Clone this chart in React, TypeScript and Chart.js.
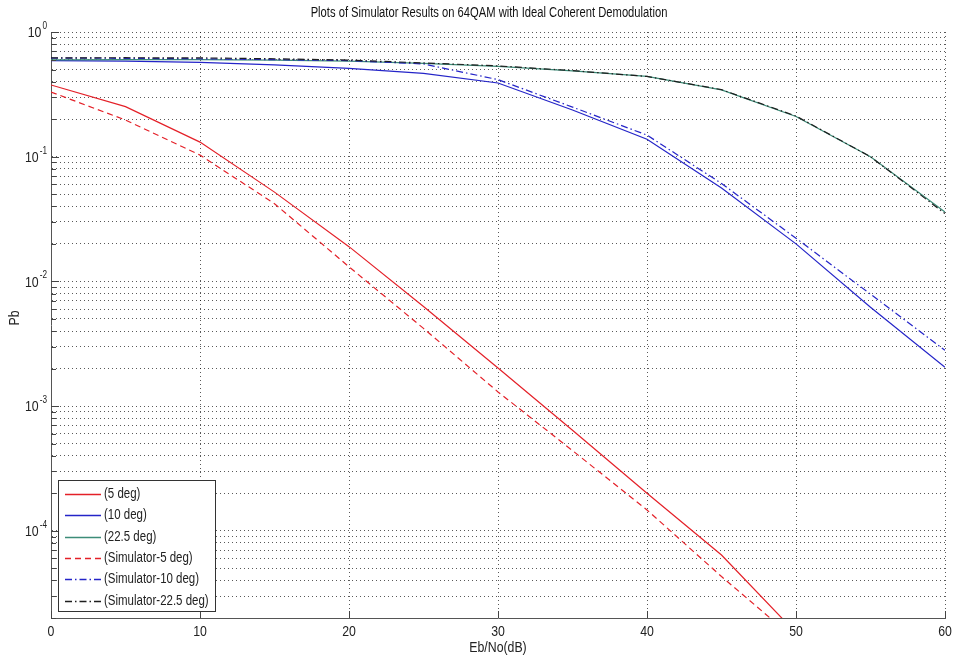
import React, { useEffect, useRef } from "react";
import { Chart, registerables } from "chart.js";

Chart.register(...registerables);

// ---- data ----
const ebno = [0, 5, 10, 15, 20, 25, 30, 35, 40, 45, 50, 55, 60];

const deg5 = [0.376, 0.252, 0.131, 0.052, 0.019, 0.0063, 0.00202, 0.00064, 0.0002, 0.000064, 0.0000152];
const deg10 = [0.589, 0.585, 0.57, 0.544, 0.51, 0.465, 0.39, 0.237, 0.138, 0.056, 0.02, 0.0062, 0.00205];
const deg22 = [0.598, 0.6, 0.6, 0.595, 0.585, 0.56, 0.53, 0.487, 0.44, 0.343, 0.21, 0.1, 0.036];
const sim5 = [0.33, 0.197, 0.103, 0.042, 0.0131, 0.0042, 0.0013, 0.00044, 0.000147, 0.000043, 0.0000133];
const sim10 = [0.618, 0.615, 0.61, 0.6, 0.59, 0.554, 0.415, 0.25, 0.149, 0.061, 0.0222, 0.0079, 0.0028];
const sim22 = [0.62, 0.622, 0.62, 0.61, 0.595, 0.565, 0.535, 0.49, 0.44, 0.345, 0.212, 0.1, 0.035];

const seriesLabels = ["(5 deg)", "(10 deg)", "(22.5 deg)", "(Simulator-5 deg)", "(Simulator-10 deg)", "(Simulator-22.5 deg)"];
const xTicks = [0, 10, 20, 30, 40, 50, 60];
const yDecades = [1e-5, 1e-4, 1e-3, 1e-2, 1e-1, 1];
const yMin = 2e-5;
const yMax = 1;

const titleText = "Plots of Simulator Results on 64QAM with Ideal Coherent Demodulation";
const xTitle = "Eb/No(dB)";
const yTitle = "Pb";

const FONT = "'Liberation Sans', Arial, sans-serif";
const SQ = 0.82; // horizontal condensing of text

const colors = ["rgb(228,32,40)", "rgb(36,36,200)", "rgb(60,140,120)", "rgb(228,32,40)", "rgb(36,36,200)", "rgb(30,30,30)"];
const dashes: number[][] = [[], [], [], [6, 4], [7, 3, 1.5, 3], [7, 3, 1.5, 3]];
const values = [deg5, deg10, deg22, sim5, sim10, sim22];

function allYTicks(): number[] {
  const out: number[] = [];
  for (const d of yDecades) {
    for (let m = 1; m <= 9; m++) {
      const v = +(m * d).toPrecision(3);
      if (v >= yMin - 1e-12 && v <= yMax + 1e-12) out.push(v);
    }
  }
  return out;
}

function txt(ctx: CanvasRenderingContext2D, s: string, x: number, y: number, size: number, align: CanvasTextAlign, base: CanvasTextBaseline = "middle", sq = SQ) {
  ctx.save();
  ctx.font = `${size}px ${FONT}`;
  ctx.translate(x, y);
  ctx.scale(sq, 1);
  ctx.textAlign = align;
  ctx.textBaseline = base;
  ctx.fillText(s, 0, 0);
  ctx.restore();
}

function txtW(ctx: CanvasRenderingContext2D, s: string, size: number, sq = SQ) {
  ctx.save();
  ctx.font = `${size}px ${FONT}`;
  const w = ctx.measureText(s).width * sq;
  ctx.restore();
  return w;
}

const decorPlugin = {
  id: "decor",
  afterDraw(chart: any) {
    const { ctx, chartArea: a, scales } = chart;
    const x = scales.x;
    const y = scales.y;
    ctx.save();
    // inward tick marks
    ctx.strokeStyle = "#444";
    ctx.lineWidth = 1;
    ctx.setLineDash([]);
    for (const v of allYTicks()) {
      const py = Math.round(y.getPixelForValue(v)) + 0.5;
      const isDec = yDecades.some((d) => Math.abs(d - v) / d < 1e-6);
      const len = isDec ? 8 : 5;
      ctx.beginPath();
      ctx.moveTo(a.left, py);
      ctx.lineTo(a.left + len, py);
      ctx.stroke();
    }
    for (const v of xTicks) {
      const px = Math.round(x.getPixelForValue(v)) + 0.5;
      ctx.beginPath();
      ctx.moveTo(px, a.bottom);
      ctx.lineTo(px, a.bottom - 7);
      ctx.stroke();
    }
    ctx.fillStyle = "#222";
    // x tick labels
    for (const v of xTicks) {
      txt(ctx, String(v), x.getPixelForValue(v), a.bottom + 14, 15, "center");
    }
    // y tick labels with superscript exponent
    for (const d of yDecades) {
      if (d < yMin || d > yMax) continue;
      const py = y.getPixelForValue(d);
      const exp = String(Math.round(Math.log10(d)));
      const ew = txtW(ctx, exp, 10);
      const expRight = a.left - 4;
      txt(ctx, exp, expRight - ew, py - 3, 10, "left", "alphabetic");
      txt(ctx, "10", expRight - ew - 1, py + 1, 15, "right");
    }
    // title
    ctx.fillStyle = "#111";
    txt(ctx, titleText, 489, 13, 14, "center", "middle", 0.8);
    // axis titles
    ctx.fillStyle = "#222";
    txt(ctx, xTitle, (a.left + a.right) / 2, 648, 15, "center");
    ctx.save();
    ctx.translate(15, 318);
    ctx.rotate(-Math.PI / 2);
    txt(ctx, yTitle, 0, 0, 15, "center");
    ctx.restore();

    // legend
    const lx = 58.5, ly = 480.5, lw = 157, lh = 131;
    ctx.fillStyle = "#fff";
    ctx.fillRect(lx, ly, lw, lh);
    ctx.strokeStyle = "#333";
    ctx.lineWidth = 1;
    ctx.setLineDash([]);
    ctx.strokeRect(lx, ly, lw, lh);
    const ds = chart.data.datasets;
    ds.forEach((d: any, i: number) => {
      const cy = Math.round(494 + i * 21.3) + 0.5;
      ctx.strokeStyle = colors[i];
      ctx.lineWidth = 1.6;
      ctx.setLineDash(dashes[i]);
      ctx.beginPath();
      ctx.moveTo(65, cy);
      ctx.lineTo(101, cy);
      ctx.stroke();
      ctx.setLineDash([]);
      ctx.fillStyle = "#222";
      txt(ctx, d.label, 104, cy, 14, "left");
    });
    ctx.restore();
  },
};

export default function App() {
  const ref = useRef<HTMLCanvasElement | null>(null);
  useEffect(() => {
    if (!ref.current) return;
    const datasets = values.map((vals, i) => ({
      label: seriesLabels[i],
      data: vals.map((v, j) => ({ x: ebno[j], y: v })),
      borderColor: colors[i],
      backgroundColor: colors[i],
      borderDash: dashes[i],
      borderWidth: 1.2,
      pointRadius: 0,
      tension: 0,
      fill: false,
      order: 6 - i,
    }));
    const chart = new Chart(ref.current, {
      type: "line",
      data: { datasets },
      plugins: [decorPlugin],
      options: {
        responsive: false,
        animation: false,
        layout: { padding: { top: 32, right: 9, left: 0, bottom: 0 } },
        plugins: { legend: { display: false }, tooltip: { enabled: false }, title: { display: false } },
        scales: {
          x: {
            type: "linear",
            min: 0,
            max: 60,
            afterFit: (s: any) => {
              s.height = 44;
            },
            afterBuildTicks: (s: any) => {
              s.ticks = xTicks.map((v) => ({ value: v }));
            },
            ticks: { display: false },
            grid: {
              color: "rgba(0,0,0,0.65)",
              lineWidth: 1,
              drawTicks: false,
            },
            border: { display: true, color: "#555", width: 1, dash: [1, 3] },
          },
          y: {
            type: "logarithmic",
            min: yMin,
            max: yMax,
            afterFit: (s: any) => {
              s.width = 51;
            },
            afterBuildTicks: (s: any) => {
              s.ticks = allYTicks().map((v) => ({ value: v }));
            },
            ticks: { display: false },
            grid: {
              color: "rgba(0,0,0,0.65)",
              lineWidth: 1,
              drawTicks: false,
            },
            border: { display: true, color: "#555", width: 1, dash: [1, 3] },
          },
        },
      } as any,
    });
    return () => chart.destroy();
  }, []);
  return (
    <div style={{ position: "fixed", left: 0, top: 0, width: 954, height: 662, background: "#fff" }}>
      <canvas ref={ref} width={954} height={662} style={{ display: "block" }} />
    </div>
  );
}
